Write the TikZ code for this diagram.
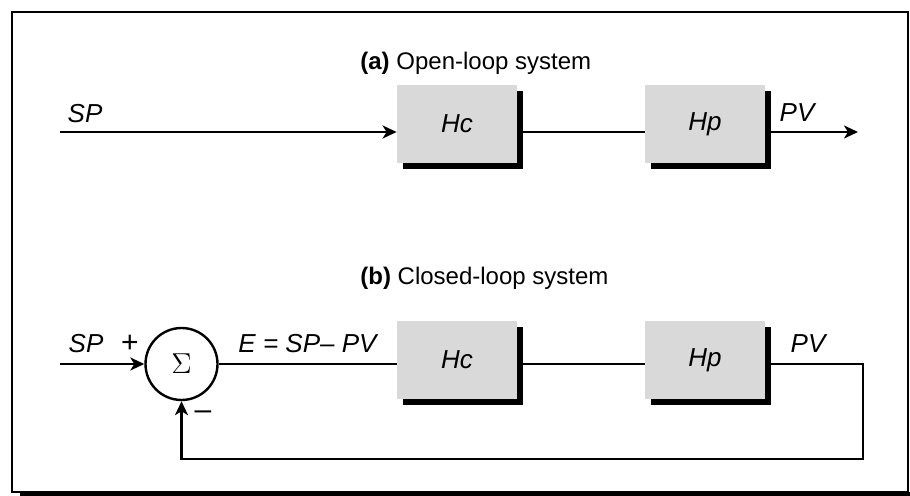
\documentclass[tikz,border=0pt]{standalone}
\usepackage{fontspec}
\setmainfont{Liberation Sans}
\usetikzlibrary{arrows.meta, positioning, shadows}

\definecolor{boxgray}{HTML}{D9D9D9}

\tikzset{
  block/.style={fill=boxgray, minimum width=60pt, minimum height=39pt, inner sep=0pt,
    font=\fontsize{13}{15}\selectfont\itshape,
    drop shadow={shadow xshift=3pt, shadow yshift=-3pt, fill=black, opacity=1}},
  sumnode/.style={circle, draw, line width=1.2pt, minimum size=36pt, inner sep=0pt,
    font=\fontsize{15}{17}\selectfont},
  sig/.style={line width=1.2pt},
  arr/.style={sig, -{Stealth[length=7pt, width=6.5pt, inset=2pt]}},
  lbl/.style={font=\fontsize{13}{15}\selectfont\itshape, inner sep=0pt, anchor=base},
  sgn/.style={font=\fontsize{15}{17}\selectfont, inner sep=0pt},
  ttl/.style={font=\fontsize{12}{14}\selectfont, inner sep=0pt, anchor=base west},
}

\begin{document}
\begin{tikzpicture}[x=0.5pt, y=-0.5pt]
      \useasboundingbox (0,0) rectangle (910,496);
      % Frame
      \draw[line width=1.3pt] (12,12) rectangle (908,492);
      \fill (20,492) rectangle (910,496);

      % (a) Open-loop system
      \node[ttl] (ttla) at (360,70) {\textbf{(a)} Open-loop system};
      \coordinate (spa) at (60,132);
      \coordinate (pva) at (858,132);
      \node[block] (hca) at (457,124) {Hc};
      \node[block] (hpa) at (705,124) {Hp};
      \draw[arr] (spa) -- (spa -| hca.west);
      \draw[sig] (hca.east |- spa) -- (hpa.west |- spa);
      \draw[arr] (hpa.east |- spa) -- (pva);
      \node[lbl] (splbla) at (85,123) {SP};
      \node[lbl] (pvlbla) at (797,122) {PV};

      % (b) Closed-loop system
      \node[ttl] (ttlb) at (360,285) {\textbf{(b)} Closed-loop system};
      \coordinate (spb) at (60,364);
      \coordinate (fbr) at (863,459);
      \node[sumnode] (sum) at (181.5,364) {$\Sigma$};
      \node[block] (hcb) at (457,360) {Hc};
      \node[block] (hpb) at (705,360) {Hp};
      \draw[arr] (spb) -- (sum);
      \draw[sig] (sum) -- (hcb.west |- sum);
      \draw[sig] (hcb.east |- sum) -- (hpb.west |- sum);
      \draw[arr] (hpb.east |- sum) -| (fbr) -| (sum.south);
      \node[lbl] (splblb) at (86,353) {SP};
      \node[sgn, anchor=base] (plus) at (130,353) {+};
      \node[sgn] (minus) at (203,415) {–};
      \node[lbl] (errlbl) at (307.5,353) {E = SP– PV};
      \node[lbl] (pvlblb) at (808,353) {PV};
    \end{tikzpicture}
\end{document}
